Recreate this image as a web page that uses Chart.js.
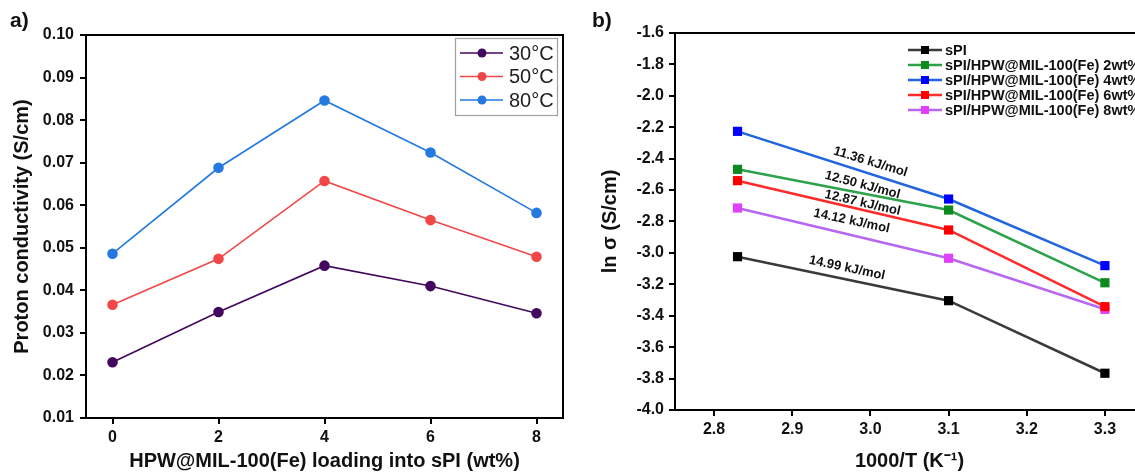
<!DOCTYPE html>
<html><head><meta charset="utf-8">
<script src="https://cdn.jsdelivr.net/npm/chart.js@4.4.1/dist/chart.umd.min.js"></script>
<style>
html,body{margin:0;padding:0;background:#fff;width:1135px;height:473px;overflow:hidden;}
#wrap{position:relative;width:1135px;height:473px;overflow:hidden;}
canvas{position:absolute;top:0;}
.lbl{position:absolute;font:bold 21px "Liberation Sans",Arial,sans-serif;color:#111;}
</style></head><body>
<div id="wrap">
<canvas id="ca" width="580" height="473" style="left:0;width:580px;height:473px"></canvas>
<canvas id="cb" width="600" height="473" style="left:580px;width:600px;height:473px"></canvas>
<div class="lbl" style="left:10px;top:8px">a)</div>
<div class="lbl" style="left:592px;top:8px">b)</div>
</div>
<script>
// ---- Panel a data ----
const loadings = [0, 2, 4, 6, 8];
const tempLabels = ['30°C', '50°C', '80°C'];
const cond30 = [0.0231, 0.0349, 0.0458, 0.0410, 0.0346];
const cond50 = [0.0366, 0.0474, 0.0657, 0.0565, 0.0479];
const cond80 = [0.0486, 0.0688, 0.0846, 0.0724, 0.0582];
const xTicksA = [0, 2, 4, 6, 8];
const yTicksA = [0.01, 0.02, 0.03, 0.04, 0.05, 0.06, 0.07, 0.08, 0.09, 0.10];

// ---- Panel b data ----
const invT = [2.83, 3.1, 3.3];
const seriesNames = ['sPI', 'sPI/HPW@MIL-100(Fe) 2wt%', 'sPI/HPW@MIL-100(Fe) 4wt%', 'sPI/HPW@MIL-100(Fe) 6wt%', 'sPI/HPW@MIL-100(Fe) 8wt%'];
const lnSigmaSPI = [-3.024, -3.304, -3.766];
const lnSigma2 = [-2.468, -2.727, -3.190];
const lnSigma4 = [-2.226, -2.657, -3.081];
const lnSigma6 = [-2.540, -2.854, -3.342];
const lnSigma8 = [-2.714, -3.034, -3.359];
const xTicksB = [2.8, 2.9, 3.0, 3.1, 3.2, 3.3];
const yTicksB = [-4.0, -3.8, -3.6, -3.4, -3.2, -3.0, -2.8, -2.6, -2.4, -2.2, -2.0, -1.8, -1.6];
const eaLabels = ['11.36 kJ/mol', '12.50 kJ/mol', '12.87 kJ/mol', '14.12 kJ/mol', '14.99 kJ/mol'];
const eaX = [3.0, 2.99, 2.99, 2.976, 2.97];
const eaY = [-2.421, -2.568, -2.682, -2.797, -3.096];
const eaAngle = [17, 15, 13, 12, 12];

const FONT = '"Liberation Sans", Arial, sans-serif';
Chart.defaults.font.family = FONT;
Chart.defaults.color = '#111';

const framePlugin = {
  id: 'frame',
  afterDraw(chart) {
    const {ctx, chartArea: a} = chart;
    ctx.save();
    ctx.strokeStyle = '#000'; ctx.lineWidth = 2;
    ctx.beginPath();
    ctx.moveTo(a.left, a.top); ctx.lineTo(a.right, a.top); ctx.lineTo(a.right, a.bottom);
    ctx.stroke();
    ctx.restore();
  }
};

const legendA = {
  id: 'legendA',
  afterDraw(chart) {
    const {ctx, chartArea: a} = chart;
    const ds = chart.data.datasets;
    const w = 102, h = 77;
    const left = a.right - 6 - w, top = a.top + 3;
    ctx.save();
    ctx.fillStyle = '#fff';
    ctx.fillRect(left, top, w, h);
    ctx.strokeStyle = '#a0a0a0'; ctx.lineWidth = 1.2;
    ctx.strokeRect(left + 0.5, top + 0.5, w, h);
    ds.forEach((d, i) => {
      const y = top + 15 + i * 23.5;
      ctx.strokeStyle = d.borderColor; ctx.lineWidth = 1.6;
      ctx.beginPath(); ctx.moveTo(left + 5, y); ctx.lineTo(left + 48, y); ctx.stroke();
      ctx.fillStyle = d.pointBackgroundColor;
      ctx.beginPath(); ctx.arc(left + 27, y, 4.5, 0, Math.PI * 2); ctx.fill();
      ctx.fillStyle = '#222';
      ctx.font = '20px ' + FONT; ctx.textBaseline = 'middle'; ctx.textAlign = 'left';
      ctx.fillText(d.label, left + 54, y + 1);
    });
    ctx.restore();
  }
};

const legendB = {
  id: 'legendB',
  afterDraw(chart) {
    const {ctx, chartArea: a} = chart;
    const ds = chart.data.datasets;
    ctx.save();
    ds.forEach((d, i) => {
      const y = a.top + 17 + i * 15;
      ctx.strokeStyle = d.borderColor; ctx.lineWidth = 2.5;
      ctx.beginPath(); ctx.moveTo(a.left + 233, y); ctx.lineTo(a.left + 267, y); ctx.stroke();
      ctx.fillStyle = d.pointBackgroundColor;
      ctx.fillRect(a.left + 246, y - 4, 8, 8);
      ctx.fillStyle = '#111';
      ctx.font = 'bold 14.5px ' + FONT; ctx.textBaseline = 'middle'; ctx.textAlign = 'left';
      ctx.fillText(d.label, a.left + 270, y + 1);
    });
    ctx.restore();
  }
};

const eaPlugin = {
  id: 'ea',
  afterDatasetsDraw(chart) {
    const {ctx, scales: {x, y}} = chart;
    ctx.save();
    ctx.font = 'bold 13px ' + FONT; ctx.fillStyle = '#111';
    ctx.textAlign = 'center'; ctx.textBaseline = 'middle';
    eaLabels.forEach((t, i) => {
      ctx.save();
      ctx.translate(x.getPixelForValue(eaX[i]), y.getPixelForValue(eaY[i]));
      ctx.rotate(eaAngle[i] * Math.PI / 180);
      ctx.fillText(t, 0, 0);
      ctx.restore();
    });
    ctx.restore();
  }
};

function axisCommon(extra) {
  return Object.assign({
    grid: {drawOnChartArea: false, drawTicks: true, tickLength: 6, color: '#000', lineWidth: 2},
    border: {display: true, color: '#000', width: 2},
  }, extra);
}

// ---- Chart a ----
new Chart(document.getElementById('ca'), {
  type: 'line',
  data: {
    datasets: [
      {label: tempLabels[0], data: loadings.map((v, i) => ({x: v, y: cond30[i]})), borderColor: '#44075e', pointBackgroundColor: '#44075e', pointBorderColor: '#44075e'},
      {label: tempLabels[1], data: loadings.map((v, i) => ({x: v, y: cond50[i]})), borderColor: '#f04848', pointBackgroundColor: '#f04848', pointBorderColor: '#f04848'},
      {label: tempLabels[2], data: loadings.map((v, i) => ({x: v, y: cond80[i]})), borderColor: '#2479e0', pointBackgroundColor: '#2479e0', pointBorderColor: '#2479e0'}
    ].map(d => Object.assign(d, {borderWidth: 1.6, pointRadius: 4.5, pointHoverRadius: 4.5, tension: 0, fill: false}))
  },
  options: {
    responsive: false, animation: false, devicePixelRatio: 1,
    layout: {padding: {left: 6, top: 35, right: 17, bottom: 0}},
    plugins: {legend: {display: false}, tooltip: {enabled: false}},
    scales: {
      x: axisCommon({
        type: 'linear', min: -0.5, max: 8.5,
        afterBuildTicks: s => { s.ticks = xTicksA.map(v => ({value: v})); },
        afterFit: s => { s.height = 55; },
        ticks: {font: {size: 16, weight: 'bold'}, color: '#111', padding: 4, callback: v => String(v)},
        title: {display: true, text: 'HPW@MIL-100(Fe) loading into sPI (wt%)', font: {size: 20, weight: 'bold'}, color: '#111', padding: {top: 0, bottom: 0}}
      }),
      y: axisCommon({
        type: 'linear', min: 0.01, max: 0.10,
        afterBuildTicks: s => { s.ticks = yTicksA.map(v => ({value: v})); },
        afterFit: s => { s.width = 80; },
        ticks: {font: {size: 16, weight: 'bold'}, color: '#111', padding: 6, callback: v => v.toFixed(2)},
        title: {display: true, text: 'Proton conductivity (S/cm)', font: {size: 20, weight: 'bold'}, color: '#111', padding: {top: 4, bottom: 0}}
      })
    }
  },
  plugins: [framePlugin, legendA]
});

// ---- Chart b ----
const bColors = [
  ['#3a3a3a', '#000000'],
  ['#2ea24a', '#0d8a1e'],
  ['#2266dd', '#0000ff'],
  ['#ff2b2b', '#ff0000'],
  ['#b766f0', '#e040fb']
];
const bSeries = [lnSigmaSPI, lnSigma2, lnSigma4, lnSigma6, lnSigma8];
new Chart(document.getElementById('cb'), {
  type: 'line',
  data: {
    datasets: bSeries.map((arr, k) => ({
      label: seriesNames[k],
      data: invT.map((v, i) => ({x: v, y: arr[i]})),
      borderColor: bColors[k][0], pointBackgroundColor: bColors[k][1], pointBorderColor: bColors[k][1],
      borderWidth: 2.5, pointStyle: 'rect', pointRadius: 6.5, pointHoverRadius: 6.5, pointBorderWidth: 0, tension: 0, fill: false
    }))
  },
  options: {
    responsive: false, animation: false, devicePixelRatio: 1,
    layout: {padding: {left: 14, top: 33, right: 36, bottom: 0}},
    plugins: {legend: {display: false}, tooltip: {enabled: false}},
    scales: {
      x: axisCommon({
        type: 'linear', min: 2.75, max: 3.35,
        afterBuildTicks: s => { s.ticks = xTicksB.map(v => ({value: v})); },
        afterFit: s => { s.height = 63; },
        ticks: {font: {size: 16, weight: 'bold'}, color: '#111', padding: 4, callback: v => v.toFixed(1)},
        title: {display: true, text: '1000/T (K\u207B\u00B9)', font: {size: 20, weight: 'bold'}, color: '#111', padding: {top: 0, bottom: 0}}
      }),
      y: axisCommon({
        type: 'linear', min: -4.0, max: -1.6,
        afterBuildTicks: s => { s.ticks = yTicksB.map(v => ({value: v})); },
        afterFit: s => { s.width = 81; },
        ticks: {font: {size: 16, weight: 'bold'}, color: '#111', padding: 5, callback: v => v.toFixed(1)},
        title: {display: true, text: 'ln \u03C3 (S/cm)', font: {size: 20, weight: 'bold'}, color: '#111', padding: {top: 4, bottom: 0}}
      })
    }
  },
  plugins: [framePlugin, legendB, eaPlugin]
});
</script>
</body></html>
